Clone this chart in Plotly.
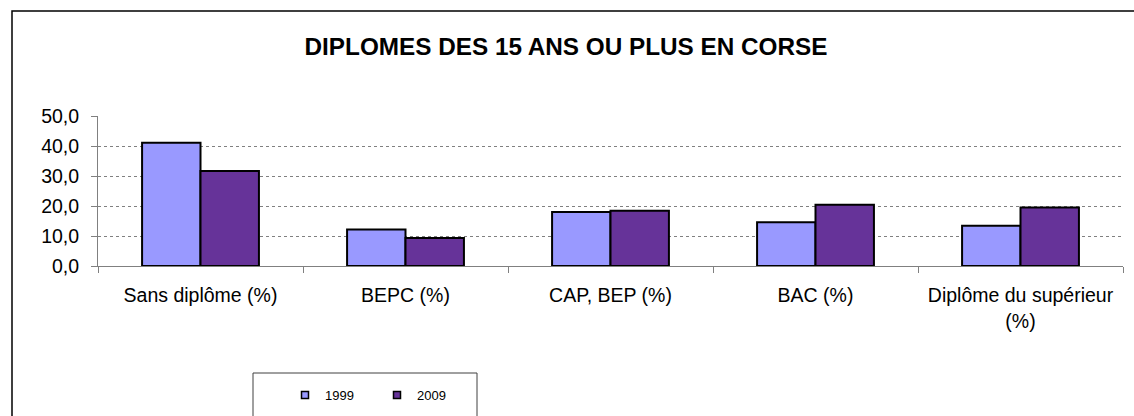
import plotly.graph_objects as go

categories = ["Sans diplôme (%)", "BEPC (%)", "CAP, BEP (%)", "BAC (%)", "Diplôme du supérieur<br>(%)"]
values_1999 = [41.1, 12.2, 18.0, 14.6, 13.4]
values_2009 = [31.7, 9.3, 18.4, 20.4, 19.5]
series_names = ["1999", "2009"]
series_colors = ["#9999FF", "#663399"]
tick_vals = [0, 10, 20, 30, 40, 50]

W, H = 1134, 416
L, R, T, B = 98, 11, 116, 150
pw, ph = W - L - R, H - T - B

def px_x(x):
    return (x - L) / pw

def px_y(y):
    return (H - B - y) / ph

fig = go.Figure()
for name, vals, col in zip(series_names, [values_1999, values_2009], series_colors):
    fig.add_trace(go.Bar(x=categories, y=vals, name=name, showlegend=False,
                         marker=dict(color=col, line=dict(color="black", width=2))))
# legend entries with small square swatches
for name, col in zip(series_names, series_colors):
    fig.add_trace(go.Scatter(x=[None], y=[None], mode="markers", name=name,
                             marker=dict(symbol="square", size=7, color=col,
                                         line=dict(color="black", width=1.5))))

font = "Liberation Sans, Arial, sans-serif"
fig.update_layout(
    width=W, height=H,
    margin=dict(l=L, r=R, t=T, b=B, autoexpand=False),
    paper_bgcolor="white", plot_bgcolor="white",
    separators=", ",
    barmode="group", bargap=0.43, bargroupgap=0,
    font=dict(family=font, size=19.5, color="black"),
    title=dict(text="<b>DIPLOMES DES 15 ANS OU PLUS EN CORSE</b>",
               x=566 / W, xref="container", xanchor="center", y=1 - 46 / H, yanchor="middle",
               font=dict(family=font, size=24.3, color="black")),
    xaxis=dict(type="category", tickson="boundaries", ticks="outside", ticklen=6,
               tickcolor="#808080", showline=True, linecolor="#808080", linewidth=1,
               showgrid=False, tickfont=dict(size=19.5), range=[-0.5, 4.5],
               ticklabelstandoff=12),
    yaxis=dict(range=[0, 50], tickvals=tick_vals, tickformat=".1f", ticks="outside",
               ticklen=6, tickcolor="#808080", showline=True, linecolor="#808080",
               linewidth=1, showgrid=True, gridcolor="#808080", griddash="dot",
               gridwidth=1, tickfont=dict(size=19.5), zeroline=False,
               ticklabelstandoff=8),
    showlegend=True,
    legend=dict(orientation="h", x=px_x(285), xanchor="left", y=px_y(395), yanchor="middle",
                bgcolor="rgba(0,0,0,0)", borderwidth=0, font=dict(size=13),
                entrywidth=47, entrywidthmode="pixels", itemwidth=30),
    shapes=[
        dict(type="rect", xref="paper", yref="paper", x0=px_x(12), x1=px_x(1145),
             y0=px_y(430), y1=px_y(11), line=dict(color="black", width=1.5), layer="below"),
        dict(type="rect", xref="paper", yref="paper", x0=px_x(253), x1=px_x(477),
             y0=px_y(430), y1=px_y(373), line=dict(color="#404040", width=1), layer="below"),
    ],
)

fig.write_html("out.html", config={"displayModeBar": False},
               post_script="document.body.style.margin='0';document.body.style.overflow='hidden';")
